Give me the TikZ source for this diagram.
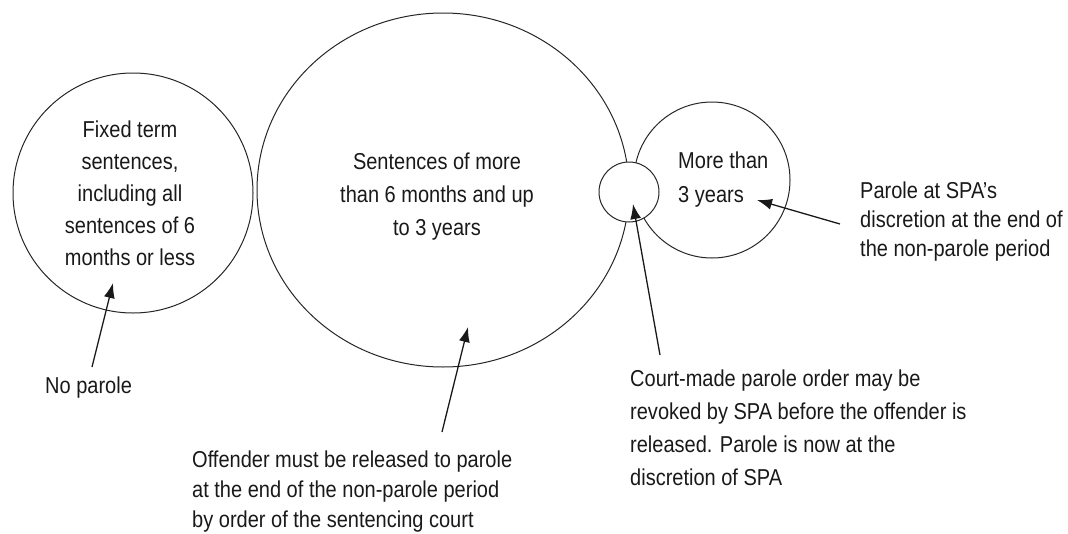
\documentclass[tikz,border=0pt]{standalone}
\usepackage{fontspec}
\setmainfont{Liberation Sans}[FakeStretch=0.87]
\usetikzlibrary{shapes.geometric,arrows.meta}
\begin{document}
\begin{tikzpicture}[x=1pt,y=-1pt,
  ring/.style={draw=black!85, line width=1pt, inner sep=0pt},
  lbl/.style={inner sep=0pt, text=black!90},
  pointer/.style={draw=black!90, line width=1.3pt, -{Latex[length=15pt,width=11pt]}}]
\useasboundingbox (0,0) rectangle (1068,533);
% circles
\node[ring, circle, minimum size=240pt] (fixed) at (133,193) {};
\node[ring, ellipse, minimum width=372pt, minimum height=354pt] (mid) at (443,190) {};
\node[ring, circle, minimum size=156pt] (long) at (712,180) {};
\node[ring, circle, fill=white, minimum size=60pt] (small) at (629,192) {};
% texts
\node[lbl, align=center, font=\fontsize{23}{32}\selectfont] (tfixed) at (130,193)
  {Fixed term\\sentences,\\including all\\sentences of 6\\months or less};
\node[lbl, align=center, font=\fontsize{23}{33}\selectfont] (tmid) at (437,197)
  {Sentences of more\\than 6 months and up\\to 3 years};
\node[lbl, align=left, anchor=west, font=\fontsize{23}{34}\selectfont] (tlong) at (678,180)
  {More than\\3 years};
\node[lbl, align=left, anchor=west, font=\fontsize{23}{29}\selectfont] (tspa) at (860,222)
  {Parole at SPA’s\\discretion at the end of\\the non-parole period};
\node[lbl, align=left, anchor=west, font=\fontsize{23}{33}\selectfont] (tcourt) at (630,428)
  {Court-made parole order may be\\revoked by SPA before the offender is\\released. Parole is now at the\\discretion of SPA};
\node[lbl, align=left, anchor=west, font=\fontsize{23}{30}\selectfont] (toff) at (192,492)
  {Offender must be released to parole\\at the end of the non-parole period\\by order of the sentencing court};
\node[lbl, anchor=west, font=\fontsize{23}{30}\selectfont] (tno) at (45,388) {No parole};
% arrows
\coordinate (a1s) at (92,367);  \coordinate (a1e) at (113,283);
\coordinate (a2s) at (442,432); \coordinate (a2e) at (468,327);
\coordinate (a3s) at (660,355); \coordinate (a3e) at (633,204);
\coordinate (a4s) at (840,224); \coordinate (a4e) at (757,200);
\draw[pointer] (a1s) -- (a1e);
\draw[pointer] (a2s) -- (a2e);
\draw[pointer] (a3s) -- (a3e);
\draw[pointer] (a4s) -- (a4e);
\end{tikzpicture}
\end{document}
